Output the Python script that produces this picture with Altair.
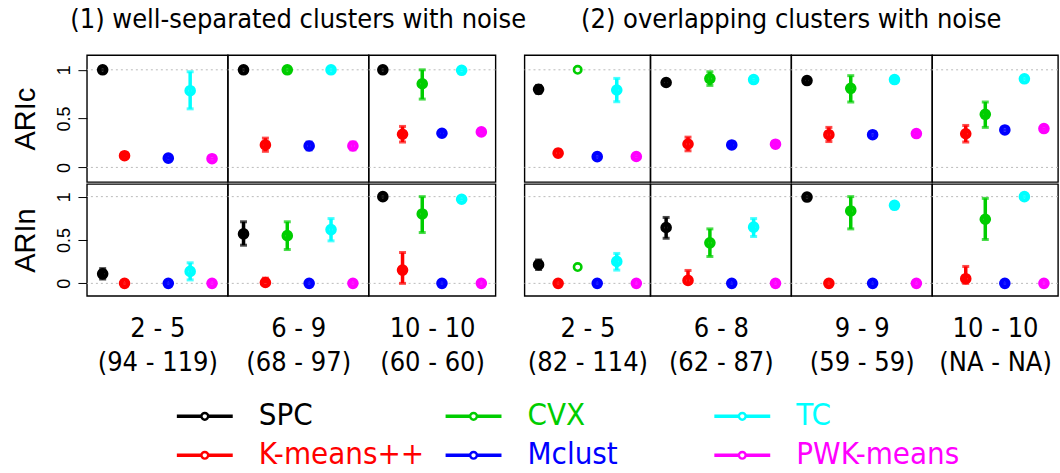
import altair as alt
import pandas as pd

# Methods (plotting order inside each panel) and their colours
methods = ["SPC", "K-means++", "CVX", "Mclust", "TC", "PWK-means"]
colors = ["#000000", "#FF0000", "#00CD00", "#0000FF", "#00FFFF", "#FF00FF"]

# Panel labels: range of cluster numbers and (range of sample sizes)
k_ranges = ["2 - 5", "6 - 9", "10 - 10", "2 - 5", "6 - 8", "9 - 9", "10 - 10"]
n_ranges = ["(94 - 119)", "(68 - 97)", "(60 - 60)", "(82 - 114)", "(62 - 87)", "(59 - 59)", "(NA - NA)"]
panel_widths = [141, 141, 127, 126, 141, 141, 126]
group_titles = ["(1) well-separated clusters with noise", "(2) overlapping clusters with noise"]

# ARIc: mean and interval per method, one entry per panel (None = not available)
aric_mean = {
    "SPC":       [1.00, 1.00, 1.00, 0.80, 0.87, 0.89, None],
    "K-means++": [0.12, 0.23, 0.34, 0.146, 0.24, 0.335, 0.345],
    "CVX":       [None, 1.00, 0.857, 1.00, 0.91, 0.81, 0.544],
    "Mclust":    [0.095, 0.22, 0.35, 0.11, 0.23, 0.335, 0.384],
    "TC":        [0.786, 1.00, 0.995, 0.793, 0.90, 0.90, 0.908],
    "PWK-means": [0.089, 0.22, 0.364, 0.112, 0.238, 0.347, 0.398],
}
aric_lo = {
    "SPC":       [1.00, 1.00, 1.00, 0.76, 0.85, 0.87, None],
    "K-means++": [0.10, 0.165, 0.26, 0.12, 0.17, 0.265, 0.26],
    "CVX":       [None, 1.00, 0.70, None, 0.84, 0.67, 0.41],
    "Mclust":    [0.08, 0.18, 0.33, 0.11, 0.21, 0.335, 0.384],
    "TC":        [0.60, 1.00, 0.99, 0.673, 0.89, 0.87, 0.908],
    "PWK-means": [0.08, 0.18, 0.345, 0.10, 0.21, 0.33, 0.385],
}
aric_hi = {
    "SPC":       [1.00, 1.00, 1.00, 0.84, 0.89, 0.91, None],
    "K-means++": [0.14, 0.30, 0.42, 0.18, 0.31, 0.41, 0.43],
    "CVX":       [None, 1.00, 1.00, None, 0.98, 0.94, 0.67],
    "Mclust":    [0.11, 0.26, 0.37, 0.11, 0.25, 0.335, 0.384],
    "TC":        [0.98, 1.00, 1.00, 0.912, 0.91, 0.93, 0.908],
    "PWK-means": [0.10, 0.26, 0.385, 0.125, 0.265, 0.365, 0.41],
}

# ARIn: mean and interval per method, one entry per panel
arin_mean = {
    "SPC":       [0.11, 0.57, 1.00, 0.215, 0.644, 0.995, None],
    "K-means++": [0.00, 0.01, 0.153, 0.00, 0.034, 0.00, 0.054],
    "CVX":       [None, 0.55, 0.80, 0.188, 0.467, 0.835, 0.739],
    "Mclust":    [0.00, 0.00, 0.00, 0.00, 0.00, 0.00, 0.00],
    "TC":        [0.138, 0.62, 0.97, 0.253, 0.648, 0.90, 1.00],
    "PWK-means": [0.00, 0.00, 0.00, 0.00, 0.00, 0.00, 0.00],
}
arin_lo = {
    "SPC":       [0.05, 0.44, 1.00, 0.16, 0.52, 0.99, None],
    "K-means++": [0.00, 0.00, 0.00, 0.00, 0.00, 0.00, 0.00],
    "CVX":       [None, 0.39, 0.586, None, 0.31, 0.628, 0.506],
    "Mclust":    [0.00, 0.00, 0.00, 0.00, 0.00, 0.00, 0.00],
    "TC":        [0.04, 0.49, 0.96, 0.153, 0.54, 0.87, 1.00],
    "PWK-means": [0.00, 0.00, 0.00, 0.00, 0.00, 0.00, 0.00],
}
arin_hi = {
    "SPC":       [0.17, 0.71, 1.00, 0.27, 0.76, 1.00, None],
    "K-means++": [0.00, 0.06, 0.356, 0.00, 0.149, 0.00, 0.195],
    "CVX":       [None, 0.71, 1.00, None, 0.628, 1.00, 0.98],
    "Mclust":    [0.00, 0.00, 0.00, 0.00, 0.00, 0.00, 0.00],
    "TC":        [0.237, 0.747, 0.98, 0.345, 0.747, 0.93, 1.00],
    "PWK-means": [0.00, 0.00, 0.00, 0.00, 0.00, 0.00, 0.00],
}

reference_lines = [0, 1]

NARROW = "DejaVu Sans Condensed"
REGULAR = "Liberation Sans"

# Long table: one row per (metric, panel, method)
records = []
for metric, mean, lo, hi in [("ARIc", aric_mean, aric_lo, aric_hi),
                             ("ARIn", arin_mean, arin_lo, arin_hi)]:
    for p in range(len(k_ranges)):
        for i, m in enumerate(methods):
            v = mean[m][p]
            if v is None:
                continue
            records.append({"metric": metric, "panel": p, "idx": i, "method": m,
                            "value": v, "lo": lo[m][p], "hi": hi[m][p]})
df = pd.DataFrame(records)
grid_df = pd.DataFrame({"g": reference_lines})

color = alt.Color("method:N", scale=alt.Scale(domain=methods, range=colors), legend=None)
xscale = alt.Scale(domain=[-0.72, 5.72], nice=False, zero=False)


def panel(p, metric, height, ydomain, bottom, title=None):
    yscale = alt.Scale(domain=ydomain, nice=False, zero=False)
    yaxis = alt.Axis(values=[0, 0.5, 1], format="~g", title=metric) if p == 0 else None
    xaxis = alt.Axis(title=[k_ranges[p], n_ranges[p]]) if bottom else None

    def X(f="idx"):
        return alt.X(f"{f}:Q", scale=xscale, axis=xaxis)

    def Y(f):
        return alt.Y(f"{f}:Q", scale=yscale, axis=yaxis)

    base = alt.Chart(df).transform_filter(
        f"datum.panel == {p} && datum.metric == '{metric}'")
    with_bar = base.transform_filter("isValid(datum.lo)")
    no_bar = base.transform_filter("!isValid(datum.lo)")

    # dotted reference lines at 0 and 1
    grid = alt.Chart(grid_df).mark_rule(color="#BBBBBB", strokeDash=[2, 3],
                                        strokeWidth=1).encode(y=Y("g"))
    bars = with_bar.mark_rule(strokeWidth=3.5).encode(
        x=X(), y=Y("lo"), y2=alt.Y2("hi:Q"), color=color)
    cap_lo = with_bar.mark_tick(orient="horizontal", size=7, thickness=3).encode(
        x=X(), y=Y("lo"), color=color)
    cap_hi = with_bar.mark_tick(orient="horizontal", size=7, thickness=3).encode(
        x=X(), y=Y("hi"), color=color)
    pts = with_bar.mark_point(shape="circle", filled=False, size=55, strokeWidth=4.2,
                              opacity=1).encode(x=X(), y=Y("value"), color=color)
    rings = no_bar.mark_point(shape="circle", filled=False, size=55, strokeWidth=2.6,
                              opacity=1).encode(x=X(), y=Y("value"), color=color)
    props = dict(width=panel_widths[p], height=height)
    if title is not None:
        props["title"] = title
    return alt.layer(grid, bars, cap_lo, cap_hi, pts, rings).properties(**props)


def spacer(height):
    return alt.Chart(pd.DataFrame({"s": [0]})).mark_point(opacity=0).properties(
        width=29, height=height, view=alt.ViewBackground(strokeOpacity=0))


def row(metric, height, ydomain, bottom):
    charts = []
    for p in range(len(k_ranges)):
        title = None
        if not bottom and p == 1:
            title = alt.TitleParams(group_titles[0], font=NARROW, fontSize=27,
                                    fontWeight="normal", anchor="middle", frame="group",
                                    offset=21, color="black")
        if not bottom and p == 4:
            title = alt.TitleParams(group_titles[1], font=NARROW, fontSize=27,
                                    fontWeight="normal", anchor="middle", frame="group",
                                    offset=21, dx=70.5, color="black")
        charts.append(panel(p, metric, height, ydomain, bottom, title))
        if p == 2:
            charts.append(spacer(height))
    return alt.hconcat(*charts, spacing=0, bounds="flush")


top_row = row("ARIc", 127, [-0.15, 1.15], False)
bottom_row = row("ARIn", 112, [-0.145, 1.145], True)

# Legend: two rows, three columns, line with circle followed by coloured name
leg_df = pd.DataFrame({
    "method": methods,
    "col": [i // 2 for i in range(len(methods))],
    "row": [i % 2 for i in range(len(methods))],
})
lx = alt.Scale(domain=[-0.3346, 3.2825], nice=False, zero=False)
ly = alt.Scale(domain=[-0.5, 1.5], reverse=True, nice=False, zero=False)
leg_base = alt.Chart(leg_df).transform_calculate(
    x0="datum.col", x1="datum.col + 0.208", xc="datum.col + 0.104",
    xt="datum.col + 0.305")
leg_line = leg_base.mark_rule(strokeWidth=3.5).encode(
    x=alt.X("x0:Q", scale=lx, axis=None), x2="x1:Q",
    y=alt.Y("row:Q", scale=ly, axis=None), color=color)
leg_pt = leg_base.mark_point(shape="circle", filled=True, fill="white", size=45,
                             strokeWidth=2.4, opacity=1).encode(
    x=alt.X("xc:Q", scale=lx, axis=None), y=alt.Y("row:Q", scale=ly, axis=None),
    stroke=alt.Stroke("method:N", scale=alt.Scale(domain=methods, range=colors),
                      legend=None))
leg_txt = leg_base.mark_text(align="left", baseline="middle", font=NARROW,
                             fontSize=31).encode(
    x=alt.X("xt:Q", scale=lx, axis=None), y=alt.Y("row:Q", scale=ly, axis=None),
    text="method:N", color=color)
legend = alt.layer(leg_line, leg_pt, leg_txt).properties(
    width=973, height=78, view=alt.ViewBackground(strokeOpacity=0))

chart = alt.vconcat(
    alt.vconcat(top_row, bottom_row, spacing=0),
    legend,
    spacing=20,
).properties(
    padding={"left": 11, "top": 5, "right": 0, "bottom": 0},
    background="white",
).configure_view(
    stroke="black", strokeWidth=1.4
).configure_axisY(
    labelAngle=-90, labelAlign="center", labelBaseline="bottom",
    labelFont=REGULAR, labelFontSize=18, labelColor="black", labelPadding=4,
    tickSize=9, tickColor="black", tickWidth=1, domain=False, grid=False,
    titleFont=REGULAR, titleFontSize=29, titleFontWeight="normal",
    titleColor="black", titlePadding=15,
).configure_axisX(
    labels=False, ticks=False, domain=False, grid=False,
    titleFont=NARROW, titleFontSize=27, titleFontWeight="normal",
    titleColor="black", titleLineHeight=34, titlePadding=20,
)

chart.save("out.html", embed_options={"renderer": "svg", "actions": False})
